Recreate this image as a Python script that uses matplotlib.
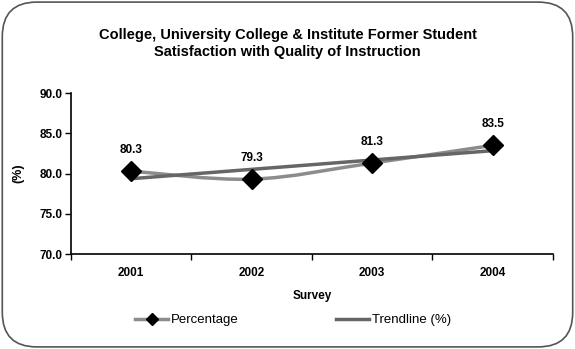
import matplotlib.pyplot as plt
import numpy as np
from matplotlib.path import Path
from matplotlib.patches import PathPatch, FancyBboxPatch
from matplotlib.lines import Line2D

plt.rcParams['font.family'] = ['Liberation Sans', 'DejaVu Sans']

# Datos
anios = ['2001', '2002', '2003', '2004']
porcentaje = [80.3, 79.3, 81.3, 83.5]
etiquetas_y = [70.0, 75.0, 80.0, 85.0, 90.0]

x = np.arange(1, len(anios) + 1)
y = np.array(porcentaje)

# Linea de tendencia (regresion lineal, como Excel)
pendiente, intercepto = np.polyfit(x, y, 1)
tendencia = pendiente * x + intercepto

fig = plt.figure(figsize=(5.75, 3.49), dpi=100)
ax = fig.add_axes([0.1235, 0.272, 0.838, 0.4615])

# Borde redondeado del grafico
borde = FancyBboxPatch((0.004, 0.006), 0.992, 0.988, boxstyle='round,pad=0,rounding_size=0.06',
                       transform=fig.transFigure, facecolor='white', edgecolor='#555555',
                       linewidth=1.2, mutation_aspect=575 / 349, zorder=-10)
fig.patches.append(borde)

# Linea suavizada (Catmull-Rom -> Bezier) para los porcentajes
pts = np.column_stack([x, y]).astype(float)
ext = np.vstack([pts[0], pts, pts[-1]])
verts = [tuple(pts[0])]
codes = [Path.MOVETO]
for i in range(1, len(ext) - 2):
    p0, p1, p2, p3 = ext[i - 1], ext[i], ext[i + 1], ext[i + 2]
    c1 = p1 + (p2 - p0) / 6
    c2 = p2 - (p3 - p1) / 6
    verts += [tuple(c1), tuple(c2), tuple(p2)]
    codes += [Path.CURVE4] * 3
ax.add_patch(PathPatch(Path(verts, codes), facecolor='none', edgecolor='#8c8c8c', linewidth=2.5, zorder=2))

ax.plot(x, tendencia, color='#666666', linewidth=2.5, zorder=3)
ax.plot(x, y, linestyle='none', marker='D', markersize=10, color='black', zorder=4)

for xi, yi in zip(x, y):
    ax.annotate(f'{yi:.1f}', (xi, yi), xytext=(0, 11), textcoords='offset points',
                ha='center', va='bottom', fontsize=8.5, fontweight='bold')

ax.set_xlim(0.5, 4.5)
ax.set_ylim(70, 90)
ax.set_yticks(etiquetas_y)
ax.set_yticklabels([f'{v:.1f}' for v in etiquetas_y], fontsize=8.5, fontweight='bold')
ax.set_xticks(x)
ax.set_xticklabels(anios, fontsize=8.5, fontweight='bold')
ax.set_xticks(np.arange(0.5, 4.6, 1), minor=True)
ax.tick_params(axis='x', which='major', length=0, pad=9)
ax.tick_params(axis='x', which='minor', length=4, width=1, direction='out')
ax.tick_params(axis='y', length=4, width=1, direction='out', pad=2)
for s in ['top', 'right']:
    ax.spines[s].set_visible(False)
for s in ['left', 'bottom']:
    ax.spines[s].set_linewidth(1.2)

ax.set_xlabel('Survey', fontsize=8.5, fontweight='bold', labelpad=8)
ax.set_ylabel('(%)', fontsize=9, fontweight='bold', labelpad=11)

fig.text(0.5, 0.875, 'College, University College & Institute Former Student\nSatisfaction with Quality of Instruction',
         ha='center', va='center', fontsize=10.5, fontweight='bold', linespacing=1.25)

# Leyenda
h1 = Line2D([], [], color='#8c8c8c', linewidth=2.5, marker='D', markersize=6,
            markerfacecolor='black', markeredgecolor='black')
h2 = Line2D([], [], color='#666666', linewidth=2.5)
fig.legend([h1, h2], ['Percentage', 'Trendline (%)'], loc='center', bbox_to_anchor=(0.51, 0.083),
           ncol=2, frameon=False, fontsize=9.5, handlelength=2.5, handletextpad=0.2, columnspacing=7.4)

fig.savefig('out.png', dpi=100)
